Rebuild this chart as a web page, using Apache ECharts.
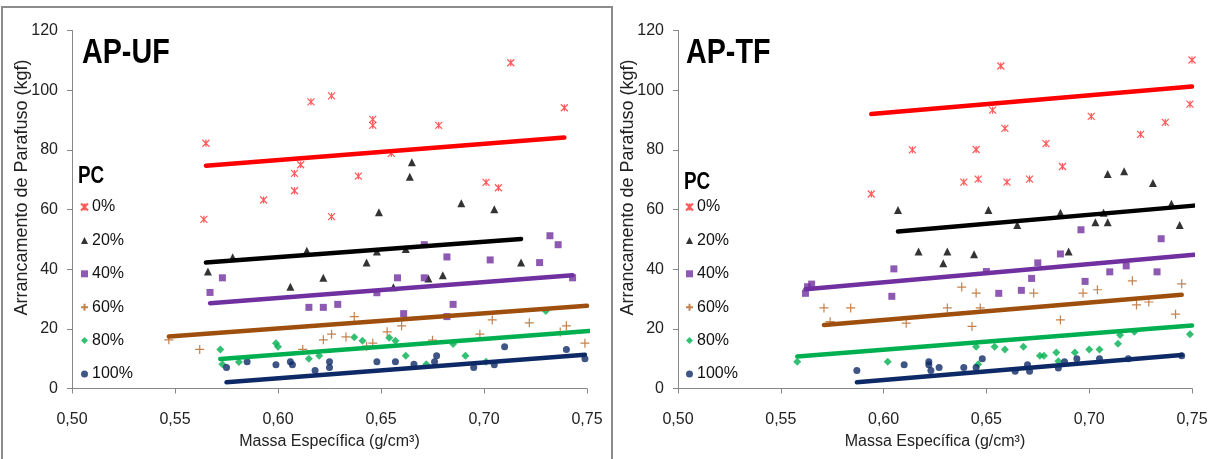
<!DOCTYPE html>
<html>
<head>
<meta charset="utf-8">
<script src="https://cdn.jsdelivr.net/npm/echarts@6/dist/echarts.min.js"></script>
<style>
  html, body { margin: 0; padding: 0; background: #fff; }
  #chart { width: 1216px; height: 459px; }
</style>
</head>
<body>
<div id="chart"></div>
<script>
// Pull-out strength of screws vs. specific gravity, by PC content

const pcLevels = ['0%', '20%', '40%', '60%', '80%', '100%'];
const xTicks = [0.50, 0.55, 0.60, 0.65, 0.70, 0.75];
const yTicks = [0, 20, 40, 60, 80, 100, 120];

// AP-UF panel: [massa específica, arrancamento]
const uf0 = [[0.565,82.2],[0.564,56.7],[0.593,63.2],[0.608,66.3],[0.608,72.1],[0.611,75.0],[0.616,96.1],[0.626,98.1],[0.626,57.6],[0.639,71.2],[0.646,90.2],[0.646,88.2],[0.655,78.8],[0.678,88.2],[0.701,69.1],[0.707,67.3],[0.713,109.2],[0.739,94.1]];
const uf20 = [[0.566,39.2],[0.578,44.0],[0.606,34.1],[0.614,46.2],[0.622,37.1],[0.643,42.2],[0.648,45.9],[0.649,59.1],[0.656,33.9],[0.662,46.8],[0.664,71.0],[0.665,75.8],[0.673,36.9],[0.680,38.0],[0.689,62.1],[0.705,60.1],[0.718,42.2]];
const uf40 = [[0.567,32.2],[0.573,37.1],[0.615,27.2],[0.622,27.2],[0.629,28.2],[0.648,32.1],[0.658,37.1],[0.661,25.1],[0.671,37.1],[0.671,48.2],[0.682,44.1],[0.682,24.1],[0.685,28.2],[0.703,43.1],[0.727,42.2],[0.732,51.2],[0.736,48.2],[0.743,37.1]];
const uf60 = [[0.547,16.3],[0.562,13.1],[0.612,13.1],[0.622,16.3],[0.626,18.2],[0.633,17.3],[0.637,24.1],[0.643,14.2],[0.646,15.2],[0.653,19.0],[0.660,21.0],[0.675,16.2],[0.698,18.2],[0.704,23.0],[0.722,22.0],[0.737,18.9],[0.740,21.0],[0.749,15.2]];
const uf80 = [[0.572,13.1],[0.573,8.1],[0.581,8.9],[0.599,15.2],[0.600,14.0],[0.615,10.0],[0.620,11.0],[0.637,17.2],[0.641,16.0],[0.654,17.0],[0.657,16.0],[0.662,11.0],[0.672,8.1],[0.685,14.9],[0.691,11.0],[0.701,9.0],[0.730,26.0]];
const uf100 = [[0.575,7.0],[0.585,9.0],[0.599,8.0],[0.606,9.0],[0.607,8.0],[0.618,6.0],[0.625,9.0],[0.625,7.0],[0.648,9.0],[0.657,9.0],[0.666,8.1],[0.676,9.0],[0.677,11.0],[0.695,7.0],[0.705,8.0],[0.710,14.0],[0.740,13.1],[0.749,10.0]];

// AP-UF linear trend lines: [[x0, y0], [x1, y1]]
const ufTrend0 = [[0.565,74.7],[0.739,84.1]];
const ufTrend20 = [[0.565,42.2],[0.718,50.1]];
const ufTrend40 = [[0.567,28.6],[0.743,38.0]];
const ufTrend60 = [[0.547,17.4],[0.750,27.7]];
const ufTrend80 = [[0.572,9.9],[0.751,19.3]];
const ufTrend100 = [[0.575,2.1],[0.749,11.3]];

// AP-TF panel
const tf0 = [[0.594,65.2],[0.614,80.0],[0.639,69.2],[0.645,80.1],[0.646,70.2],[0.653,93.3],[0.657,108.1],[0.659,87.2],[0.660,69.2],[0.671,70.2],[0.679,82.1],[0.687,74.4],[0.701,91.2],[0.725,85.2],[0.737,89.2],[0.749,95.3],[0.750,110.1]];
const tf20 = [[0.607,59.8],[0.617,45.9],[0.629,42.0],[0.631,45.9],[0.644,45.0],[0.651,59.8],[0.665,54.8],[0.686,58.9],[0.690,45.9],[0.703,55.7],[0.707,58.9],[0.709,71.9],[0.709,55.7],[0.717,72.8],[0.731,68.9],[0.740,61.9],[0.744,54.8]];
const tf40 = [[0.562,31.9],[0.563,34.1],[0.565,35.0],[0.604,30.9],[0.605,40.1],[0.650,39.2],[0.656,31.9],[0.667,32.9],[0.672,36.9],[0.675,42.1],[0.686,45.1],[0.696,53.2],[0.698,35.9],[0.710,39.1],[0.718,41.1],[0.733,39.1],[0.735,50.2]];
const tf60 = [[0.571,27.0],[0.574,22.4],[0.584,27.0],[0.611,21.9],[0.631,27.0],[0.638,34.0],[0.643,20.8],[0.645,32.0],[0.647,27.0],[0.673,32.0],[0.686,23.0],[0.697,32.0],[0.704,33.1],[0.721,36.1],[0.723,28.0],[0.729,29.0],[0.742,24.9],[0.745,35.1]];
const tf80 = [[0.558,9.0],[0.602,9.0],[0.645,14.0],[0.646,8.1],[0.654,14.0],[0.659,13.1],[0.668,14.0],[0.676,11.0],[0.678,11.0],[0.684,12.1],[0.685,9.1],[0.693,12.1],[0.700,13.1],[0.705,13.1],[0.714,15.0],[0.715,17.9],[0.722,19.0],[0.749,18.2]];
const tf100 = [[0.587,6.0],[0.610,8.0],[0.622,9.0],[0.622,8.0],[0.623,6.0],[0.627,7.0],[0.639,7.0],[0.645,7.0],[0.648,10.0],[0.664,5.8],[0.670,8.0],[0.671,5.8],[0.685,6.9],[0.688,9.0],[0.694,10.0],[0.705,10.0],[0.719,10.0],[0.745,11.0]];

const tfTrend0 = [[0.594,92.0],[0.750,101.2]];
const tfTrend20 = [[0.607,52.6],[0.751,61.3]];
const tfTrend40 = [[0.562,33.3],[0.751,44.8]];
const tfTrend60 = [[0.571,21.3],[0.745,31.4]];
const tfTrend80 = [[0.558,10.7],[0.750,21.1]];
const tfTrend100 = [[0.587,2.1],[0.745,11.2]];

const ufPoints = [uf0, uf20, uf40, uf60, uf80, uf100];
const ufTrends = [ufTrend0, ufTrend20, ufTrend40, ufTrend60, ufTrend80, ufTrend100];
const tfPoints = [tf0, tf20, tf40, tf60, tf80, tf100];
const tfTrends = [tfTrend0, tfTrend20, tfTrend40, tfTrend60, tfTrend80, tfTrend100];

const SANS = "'Liberation Sans', Arial, sans-serif";

// marker look for each PC level
const styles = [
  { marker: '#FF3030', line: '#FF0000', symbol: 'path://M0,0L10,10M10,0L0,10M5,0L5,10', size: 7, outline: true },
  { marker: '#000000', line: '#000000', symbol: 'triangle', size: 8 },
  { marker: '#7030A0', line: '#7030A0', symbol: 'rect', size: 7 },
  { marker: '#B5611F', line: '#9E4F0D', symbol: 'path://M5,0L5,10M0,5L10,5', size: 9, outline: true },
  { marker: '#00B050', line: '#00B050', symbol: 'diamond', size: 8 },
  { marker: '#0E2A66', line: '#0E2A66', symbol: 'circle', size: 7 }
];

function markerStyle(s) {
  return s.outline
    ? { color: 'rgba(0,0,0,0)', borderColor: s.marker, borderWidth: 1.2 }
    : { color: s.marker, borderWidth: 0 };
}

const series = [];
[ufPoints, tfPoints].forEach(function (panel, gi) {
  const trends = gi === 0 ? ufTrends : tfTrends;
  panel.forEach(function (pts, k) {
    const s = styles[k];
    series.push({
      name: pcLevels[k], type: 'scatter', xAxisIndex: gi, yAxisIndex: gi,
      symbol: s.symbol, symbolSize: s.size, data: pts,
      itemStyle: markerStyle(s), z: 3, silent: true
    });
    series.push({
      name: 'trend ' + pcLevels[k], type: 'line', xAxisIndex: gi, yAxisIndex: gi,
      data: trends[k], showSymbol: false, symbol: 'none',
      lineStyle: { color: s.line, width: 4.5, cap: 'round' }, z: 4, silent: true
    });
  });
});

function xAxis(gi) {
  return {
    gridIndex: gi, type: 'value',
    min: xTicks[0], max: xTicks[xTicks.length - 1], interval: 0.05,
    axisLine: { lineStyle: { color: '#878787', width: 1 } },
    axisTick: { show: true, length: 5, lineStyle: { color: '#878787' } },
    splitLine: { show: false },
    axisLabel: { color: '#222', fontFamily: SANS, fontSize: 16, margin: 23,
      formatter: function (v) { return v.toFixed(2).replace('.', ','); } },
    name: 'Massa Específica (g/cm³)', nameLocation: 'middle', nameGap: 45, nameMoveOverlap: false,
    nameTextStyle: { color: '#222', fontFamily: SANS, fontSize: 16 }
  };
}
function yAxis(gi) {
  return {
    gridIndex: gi, type: 'value',
    min: yTicks[0], max: yTicks[yTicks.length - 1], interval: 20,
    axisLine: { show: true, lineStyle: { color: '#878787', width: 1 } },
    axisTick: { show: true, length: 5, lineStyle: { color: '#878787' } },
    splitLine: { show: false },
    axisLabel: { color: '#222', fontFamily: SANS, fontSize: 16, margin: 14 },
    name: 'Arrancamento de Parafuso (kgf)', nameLocation: 'middle', nameGap: 41, nameMoveOverlap: false,
    nameTextStyle: { color: '#222', fontFamily: SANS, fontSize: 18, padding: [0, 0, 0, 44] }
  };
}

function legend(left) {
  return {
    left: left, top: 193, orient: 'vertical', itemGap: 15.4,
    itemWidth: 7, itemHeight: 7, selectedMode: false,
    data: pcLevels,
    textStyle: { color: '#111', fontFamily: SANS, fontSize: 16, lineHeight: 18, padding: [0, 0, 0, -1] }
  };
}

// condensed bold headings
function heading(text, x, y, size) {
  return {
    type: 'text', x: x, y: y, scaleX: 0.82, silent: true,
    style: { text: text, fill: '#000', font: 'bold ' + size + 'px ' + SANS, textVerticalAlign: 'top' }
  };
}

const chart = echarts.init(document.getElementById('chart'), null, { renderer: 'canvas' });
chart.setOption({
  backgroundColor: '#ffffff',
  animation: false,
  legend: [legend(75), legend(680)],
  grid: [
    { left: 72, right: 629, top: 30.5, bottom: 70.5 },
    { left: 678, right: 24, top: 30.5, bottom: 70.5 }
  ],
  xAxis: [xAxis(0), xAxis(1)],
  yAxis: [yAxis(0), yAxis(1)],
  series: series,
  graphic: [
    { type: 'polyline', silent: true, shape: { points: [[2, 459], [2, 7], [612, 7], [612, 459]] },
      style: { stroke: '#8c8c8c', lineWidth: 2, fill: null } },
    heading('AP-UF', 82, 36, 35),
    heading('AP-TF', 686, 36, 35),
    heading('PC', 78, 165, 23),
    heading('PC', 684, 171, 23)
  ]
});
</script>
</body>
</html>
